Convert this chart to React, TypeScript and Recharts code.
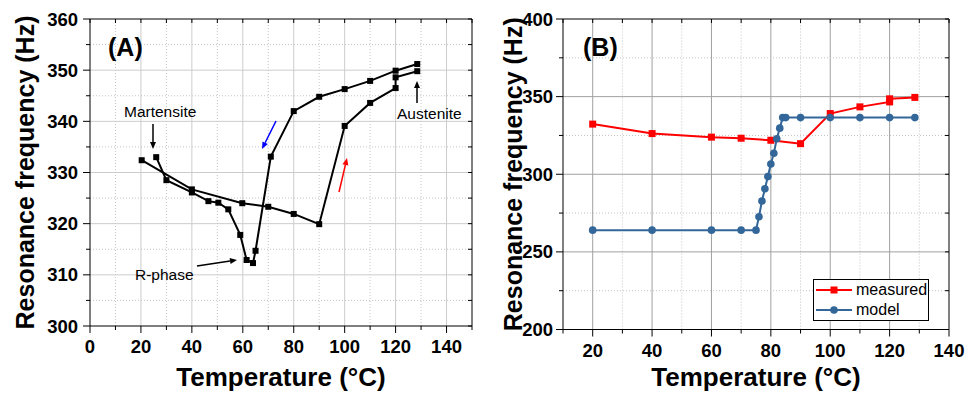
import React from 'react';
import { LineChart, Line, XAxis, YAxis, ReferenceLine, Legend } from 'recharts';

// (A) heating and cooling branches
const heatT = [20.3, 40, 59.8, 70, 80, 90, 100, 110, 120, 120, 128.5];
const heatF = [332.4, 326.7, 324.0, 323.3, 321.9, 319.9, 339.1, 343.6, 346.5, 348.6, 349.8];
const coolT = [128.5, 120, 110, 100, 90, 80, 71, 65, 64, 61.5, 59, 54.3, 50.4, 46.5, 40, 30, 26];
const coolF = [351.2, 349.9, 347.9, 346.3, 344.8, 342.0, 333.1, 314.7, 312.3, 312.9, 317.8, 322.8, 324.1, 324.4, 326.1, 328.5, 333.0];

// (B) measured vs model
const measuredT = [20, 40, 60, 70, 80, 90, 100, 110, 120, 120, 128.5];
const measuredF = [332.3, 326.2, 323.9, 323.2, 321.9, 319.7, 339.1, 343.4, 346.6, 348.6, 349.5];
const modelT = [20, 40, 60, 70, 75, 76, 77, 78, 79, 80, 81, 82, 83, 84, 85, 90, 100, 110, 120, 128.5];
const modelF = [264, 264, 264, 264, 264, 272.6, 282.8, 290.7, 298.5, 306.6, 313.5, 322.8, 329.7, 336.5, 336.5, 336.5, 336.5, 336.5, 336.5, 336.5];

const xTicksA = [0, 10, 20, 30, 40, 50, 60, 70, 80, 90, 100, 110, 120, 130, 140, 150];
const xMajorA = [0, 20, 40, 60, 80, 100, 120, 140];
const yTicksA = [300, 305, 310, 315, 320, 325, 330, 335, 340, 345, 350, 355, 360];
const yMajorA = [300, 310, 320, 330, 340, 350, 360];

const xTicksB = [10, 20, 30, 40, 50, 60, 70, 80, 90, 100, 110, 120, 130, 140];
const xMajorB = [20, 40, 60, 80, 100, 120, 140];
const yTicksB = [200, 225, 250, 275, 300, 325, 350, 375, 400];
const yMajorB = [200, 250, 300, 350, 400];

const zip = (xs: number[], ys: number[]) => xs.map((x, i) => ({ x, y: ys[i] }));

const FONT = '"Liberation Sans", Arial, sans-serif';
const H = 397;

function xTick(major: number[], plotH: number) {
  return (props: any) => {
    const { x, y, payload } = props;
    const isMajor = major.includes(payload.value);
    return (
      <g>
        <line x1={x} x2={x} y1={y} y2={y + (isMajor ? 7 : 4)} stroke="#000" />
        <line x1={x} x2={x} y1={y - plotH} y2={y - plotH + 4} stroke="#000" />
        {isMajor && (
          <text x={x} y={y + 27} textAnchor="middle" fontSize={18.5} fontWeight="bold" fill="#000" fontFamily={FONT}>
            {payload.value}
          </text>
        )}
      </g>
    );
  };
}

function yTick(major: number[], plotW: number, gap: number) {
  return (props: any) => {
    const { x, y, payload } = props;
    const isMajor = major.includes(payload.value);
    return (
      <g>
        <line x1={x - (isMajor ? 7 : 4)} x2={x} y1={y} y2={y} stroke="#000" />
        <line x1={x + plotW - 4} x2={x + plotW} y1={y} y2={y} stroke="#000" />
        {isMajor && (
          <text x={x - gap} y={y + 6.5} textAnchor="end" fontSize={18.5} fontWeight="bold" fill="#000" fontFamily={FONT}>
            {payload.value}
          </text>
        )}
      </g>
    );
  };
}

const square = (size: number, color: string) => (props: any) => {
  const { cx, cy, index } = props;
  if (cx == null || cy == null) return <g key={index} />;
  return <rect key={index} x={cx - size / 2} y={cy - size / 2} width={size} height={size} fill={color} />;
};
const circle = (r: number, color: string) => (props: any) => {
  const { cx, cy, index } = props;
  if (cx == null || cy == null) return <g key={index} />;
  return <circle key={index} cx={cx} cy={cy} r={r} fill={color} />;
};

function gridLines(axis: 'x' | 'y', all: number[], major: number[], majorColor: string, skip: number[]) {
  return all
    .filter((v) => !skip.includes(v))
    .map((v) => {
      const isMajor = major.includes(v);
      const p: any = axis === 'x' ? { x: v } : { y: v };
      return (
        <ReferenceLine
          key={axis + v}
          {...p}
          stroke={isMajor ? majorColor : '#c4c4c4'}
          strokeWidth={1}
          strokeDasharray={isMajor ? undefined : '1 2'}
        />
      );
    });
}

const xLabelStyle = { fontSize: 26, fontWeight: 'bold', fill: '#000', fontFamily: FONT } as const;
const yLabelStyle = { fontSize: 25, fontWeight: 'bold', fill: '#000', fontFamily: FONT, textAnchor: 'middle' } as const;

function Arrow({ x1, y1, x2, y2, color }: { x1: number; y1: number; x2: number; y2: number; color: string }) {
  const a = Math.atan2(y2 - y1, x2 - x1);
  const L = 7;
  const w = 3;
  const bx = x2 - L * Math.cos(a);
  const by = y2 - L * Math.sin(a);
  const px = -Math.sin(a) * w;
  const py = Math.cos(a) * w;
  return (
    <g>
      <line x1={x1} y1={y1} x2={bx} y2={by} stroke={color} strokeWidth={1.5} />
      <polygon points={`${x2},${y2} ${bx + px},${by + py} ${bx - px},${by - py}`} fill={color} />
    </g>
  );
}

function PanelA() {
  const plotW = 382;
  const plotH = 307;
  return (
    <div style={{ position: 'absolute', left: 0, top: 0, width: 483, height: H }}>
      <LineChart width={483} height={H} margin={{ top: 19, right: 11, bottom: 0, left: 0 }}>
        <XAxis
          type="number"
          dataKey="x"
          domain={[0, 150]}
          ticks={xTicksA}
          interval={0}
          allowDataOverflow
          height={71}
          tickSize={0}
          tickMargin={0}
          tickLine={false}
          tick={xTick(xMajorA, plotH)}
          axisLine={{ stroke: '#000' }}
          label={{ value: 'Temperature (°C)', position: 'insideBottom', offset: 11, style: xLabelStyle }}
        />
        <YAxis
          type="number"
          dataKey="y"
          domain={[300, 360]}
          ticks={yTicksA}
          interval={0}
          allowDataOverflow
          width={90}
          tickSize={0}
          tickMargin={0}
          tickLine={false}
          tick={yTick(yMajorA, plotW, 12)}
          axisLine={{ stroke: '#000' }}
          label={{ value: 'Resonance frequency (Hz)', angle: -90, position: 'insideLeft', offset: 25, style: yLabelStyle }}
        />
        {gridLines('x', xTicksA, xMajorA, '#cccccc', [0, 150])}
        {gridLines('y', yTicksA, yMajorA, '#cccccc', [300, 360])}
        <ReferenceLine x={150} stroke="#000" />
        <ReferenceLine y={360} stroke="#000" />
        <Line data={zip(heatT, heatF)} dataKey="y" stroke="#000" strokeWidth={2} dot={square(6, '#000')} isAnimationActive={false} />
        <Line data={zip(coolT, coolF)} dataKey="y" stroke="#000" strokeWidth={2} dot={square(6, '#000')} isAnimationActive={false} />
      </LineChart>
      <svg width={483} height={H} style={{ position: 'absolute', left: 0, top: 0, pointerEvents: 'none' }} fontFamily={FONT}>
        <text x={108} y={56} fontSize={25} fontWeight="bold">(A)</text>
        <text x={124} y={117} fontSize={15.5}>Martensite</text>
        <Arrow x1={153} y1={124} x2={153} y2={149} color="#000" />
        <text x={397} y={119} fontSize={15.5}>Austenite</text>
        <Arrow x1={417} y1={103} x2={417} y2={81} color="#000" />
        <text x={135} y={280} fontSize={15.5}>R-phase</text>
        <Arrow x1={197} y1={266} x2={237} y2={260} color="#000" />
        <Arrow x1={276} y1={121} x2={262} y2={149} color="#0000ff" />
        <Arrow x1={339} y1={192} x2={347} y2={158} color="#ff0000" />
      </svg>
    </div>
  );
}

function LegendBox() {
  const row = (label: string, color: string, marker: 'sq' | 'ci') => (
    <div style={{ display: 'flex', alignItems: 'center', height: 20 }}>
      <svg width={40} height={12}>
        <line x1={2} x2={38} y1={6} y2={6} stroke={color} strokeWidth={2} />
        {marker === 'sq' ? <rect x={16.5} y={2.5} width={7} height={7} fill={color} /> : <circle cx={20} cy={6} r={3.8} fill={color} />}
      </svg>
      <span style={{ marginLeft: 2, fontSize: 16, fontFamily: FONT, color: '#000' }}>{label}</span>
    </div>
  );
  return (
    <div style={{ border: '1px solid #000', background: '#fff', width: 116, height: 42, boxSizing: 'border-box' }}>
      {row('measured', '#ff0000', 'sq')}
      {row('model', '#336699', 'ci')}
    </div>
  );
}

function PanelB() {
  const plotW = 386;
  const plotH = 310.5;
  return (
    <div style={{ position: 'absolute', left: 483, top: 0, width: 484, height: H }}>
      <LineChart width={484} height={H} margin={{ top: 19, right: 18, bottom: 0, left: 0 }}>
        <XAxis
          type="number"
          dataKey="x"
          domain={[10, 140]}
          ticks={xTicksB}
          interval={0}
          allowDataOverflow
          height={67.5}
          tickSize={0}
          tickMargin={0}
          tickLine={false}
          tick={xTick(xMajorB, plotH)}
          axisLine={{ stroke: '#000' }}
          label={{ value: 'Temperature (°C)', position: 'insideBottom', offset: 11, style: xLabelStyle }}
        />
        <YAxis
          type="number"
          dataKey="y"
          domain={[200, 400]}
          ticks={yTicksB}
          interval={0}
          allowDataOverflow
          width={80}
          tickSize={0}
          tickMargin={0}
          tickLine={false}
          tick={yTick(yMajorB, plotW, 10)}
          axisLine={{ stroke: '#000' }}
          label={{ value: 'Resonance frequency (Hz)', angle: -90, position: 'insideLeft', offset: 30, style: yLabelStyle }}
        />
        {gridLines('x', xTicksB, xMajorB, '#a0a0a0', [10, 140])}
        {gridLines('y', yTicksB, yMajorB, '#a0a0a0', [200, 400])}
        <ReferenceLine x={140} stroke="#000" />
        <ReferenceLine y={400} stroke="#000" />
        <Line data={zip(measuredT, measuredF)} dataKey="y" name="measured" stroke="#ff0000" strokeWidth={2} dot={square(7, '#ff0000')} isAnimationActive={false} />
        <Line data={zip(modelT, modelF)} dataKey="y" name="model" stroke="#336699" strokeWidth={2} dot={circle(3.8, '#336699')} isAnimationActive={false} />
        <Legend
          layout="vertical"
          align="center"
          verticalAlign="middle"
          content={() => <LegendBox />}
          wrapperStyle={{ position: 'absolute', left: 330, top: 279, width: 116, height: 42 }}
        />
      </LineChart>
      <svg width={484} height={H} style={{ position: 'absolute', left: 0, top: 0, pointerEvents: 'none' }} fontFamily={FONT}>
        <text x={100} y={56} fontSize={25} fontWeight="bold">(B)</text>
      </svg>
    </div>
  );
}

export default function App() {
  return (
    <div style={{ position: 'absolute', left: 0, top: 0, width: 967, height: H, background: '#fff' }}>
      <PanelA />
      <PanelB />
    </div>
  );
}
